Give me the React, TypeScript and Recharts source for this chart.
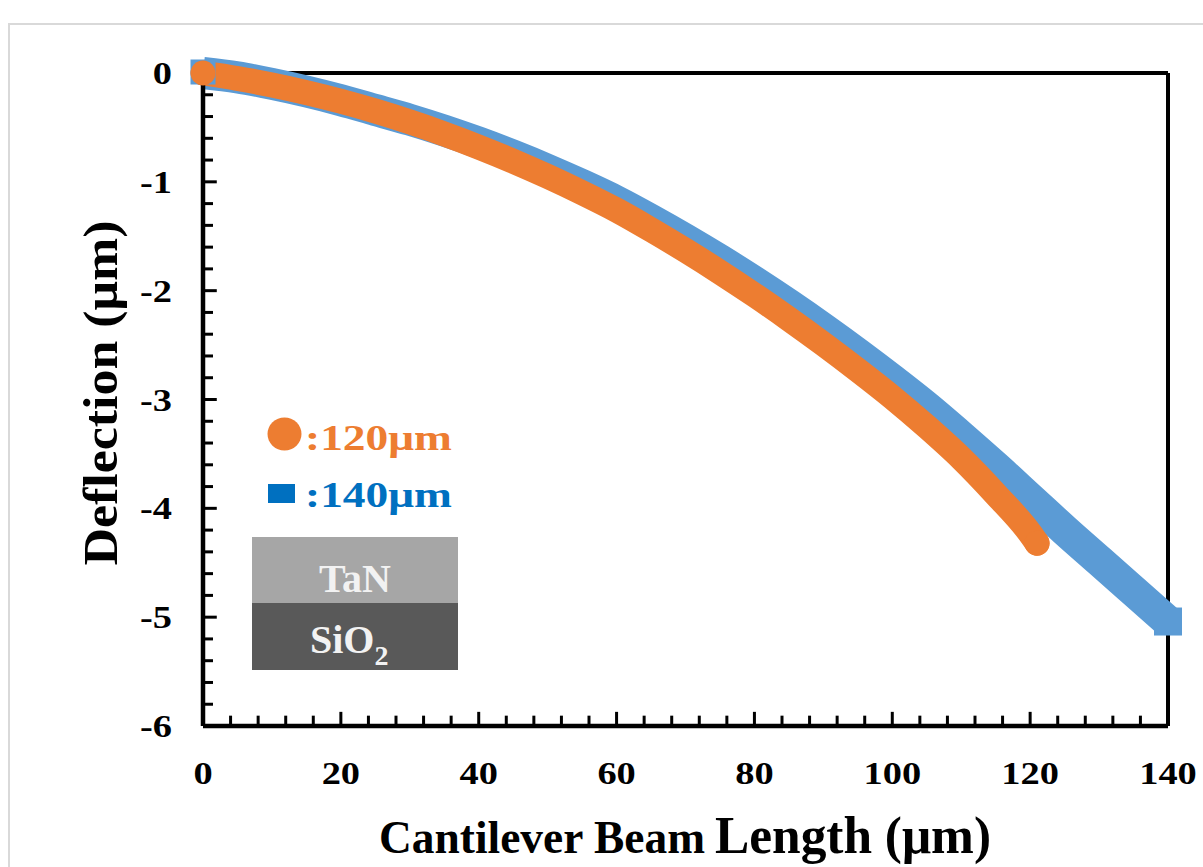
import React from 'react';
import { LineChart, Line, XAxis, YAxis, ReferenceLine } from 'recharts';

// values
const xTicks = [0, 20, 40, 60, 80, 100, 120, 140];
const yTicks = [0, -1, -2, -3, -4, -5, -6];

const beam120x = [0, 5, 10, 15, 20, 25, 30, 35, 40, 45, 50, 55, 60, 65, 70, 75, 80, 85, 90, 95, 100, 105, 110, 115, 120, 121];
const beam120y = [0, -0.05, -0.11, -0.18, -0.26, -0.35, -0.45, -0.56, -0.68, -0.81, -0.95, -1.1, -1.26, -1.44, -1.63, -1.83, -2.04, -2.26, -2.49, -2.73, -2.98, -3.25, -3.54, -3.87, -4.23, -4.32];

const beam140x = [0, 5, 10, 15, 20, 25, 30, 35, 40, 45, 50, 55, 60, 65, 70, 75, 80, 85, 90, 95, 100, 105, 110, 115, 120, 125, 130, 135, 140];
const beam140y = [0, -0.04, -0.1, -0.17, -0.25, -0.34, -0.43, -0.53, -0.64, -0.76, -0.89, -1.03, -1.18, -1.35, -1.53, -1.72, -1.92, -2.13, -2.35, -2.58, -2.82, -3.07, -3.34, -3.62, -3.91, -4.2, -4.48, -4.76, -5.04];

const beam120 = beam120x.map((x, i) => ({ x, y: beam120y[i] }));
const beam140 = beam140x.map((x, i) => ({ x, y: beam140y[i] }));

// minor tick positions of the axes
const xMinor = Array.from({ length: 34 }, (_, i) => (i + 1) * 4);
const yMinor = Array.from({ length: 29 }, (_, i) => -Math.round((i + 1) * 2) / 10);

const ORANGE = '#ed7d31';
const BLUE = '#5b9bd5';
const SERIF = '"Liberation Serif", "Times New Roman", serif';

function XTick({ x, y, payload }: any) {
  return (
    <text transform={`translate(${x},${y + 58}) scale(1.2,1)`} textAnchor="middle"
      fontFamily={SERIF} fontWeight="bold" fontSize={32} fill="#000">
      {payload.value}
    </text>
  );
}

function YTick({ x, y, payload }: any) {
  return (
    <text transform={`translate(${x - 31},${y + 11}) scale(1.2,1)`} textAnchor="end"
      fontFamily={SERIF} fontWeight="bold" fontSize={32} fill="#000">
      {payload.value}
    </text>
  );
}

// only the ends of each band show their marker shape
const squareEnd = (p: any) => {
  if (p.index !== 0 && p.index !== beam140.length - 1) return <g key={'sq' + p.index} />;
  const s = p.index === 0 ? 25 : 28;
  return <rect key={'sq' + p.index} x={p.cx - s / 2} y={p.cy - s / 2 - (p.index === 0 ? 1 : 0)} width={s} height={s} fill={BLUE} />;
};
const circleEnd = (p: any) => {
  if (p.index !== 0 && p.index !== beam120.length - 1) return <g key={'ci' + p.index} />;
  return <circle key={'ci' + p.index} cx={p.cx} cy={p.cy} r={12.5} fill={ORANGE} />;
};

export default function App() {
  return (
    <div style={{ position: 'absolute', left: 0, top: 0, width: 1203, height: 867, overflow: 'hidden', background: '#fff' }}>
      <div style={{ position: 'absolute', left: 8, top: 23, width: 1400, height: 1000, border: '2px solid #d9d9d9' }} />
      <div style={{ position: 'absolute', left: 0, top: 0 }}>
        <LineChart width={1203} height={867} margin={{ top: 73, right: 35, bottom: 140, left: 202 }}>
          <XAxis type="number" dataKey="x" domain={[0, 140]} ticks={xTicks} interval={0}
            height={1} tickSize={0} tickMargin={0} tickLine={false}
            axisLine={{ stroke: '#000', strokeWidth: 4.5 }} tick={<XTick />} />
          <YAxis type="number" domain={[-6, 0]} ticks={yTicks} interval={0}
            width={1} tickSize={0} tickMargin={0} tickLine={false}
            axisLine={{ stroke: '#000', strokeWidth: 4.5 }} tick={<YTick />} />
          <ReferenceLine y={0} stroke="#000" strokeWidth={4} />
          <ReferenceLine x={140} stroke="#000" strokeWidth={4} />
          {xMinor.map((v) => (
            <ReferenceLine key={'xt' + v}
              segment={[{ x: v, y: -6 }, { x: v, y: v % 20 === 0 ? -5.87 : -5.905 }]}
              stroke="#000" strokeWidth={3} />
          ))}
          {yMinor.map((v) => (
            <ReferenceLine key={'yt' + v}
              segment={[{ x: 0, y: v }, { x: Number.isInteger(v) ? 2.0 : 1.45, y: v }]}
              stroke="#000" strokeWidth={3} />
          ))}
          <Line data={beam140} dataKey="y" type="monotone" stroke={BLUE} strokeWidth={32}
            strokeLinecap="butt" strokeLinejoin="round" dot={squareEnd} activeDot={false} isAnimationActive={false} />
          <Line data={beam120} dataKey="y" type="monotone" stroke={ORANGE} strokeWidth={25}
            strokeLinecap="round" strokeLinejoin="round" dot={circleEnd} activeDot={false} isAnimationActive={false} />
        </LineChart>
      </div>
      <svg width={1203} height={867} style={{ position: 'absolute', left: 0, top: 0, pointerEvents: 'none' }}>
        <text transform="translate(117,393) rotate(-90)" textAnchor="middle" fontFamily={SERIF}
          fontWeight="bold" fontSize={48} textLength={345} lengthAdjust="spacingAndGlyphs">
          Deflection (μm)
        </text>
        <text x={379} y={853} fontFamily={SERIF} fontWeight="bold" fontSize={46}
          textLength={326} lengthAdjust="spacingAndGlyphs">Cantilever Beam</text>
        <text x={715} y={853} fontFamily={SERIF} fontWeight="bold" fontSize={52}
          textLength={276} lengthAdjust="spacingAndGlyphs">Length (μm)</text>

        <ellipse cx={284.5} cy={434} rx={17} ry={16.5} fill={ORANGE} />
        <text x={305} y={450} fontFamily={SERIF} fontWeight="bold" fontSize={36} fill={ORANGE}
          textLength={147} lengthAdjust="spacingAndGlyphs">:120μm</text>
        <rect x={268} y={484} width={27} height={19} fill="#0070c0" />
        <text x={305} y={507} fontFamily={SERIF} fontWeight="bold" fontSize={36} fill="#0070c0"
          textLength={147} lengthAdjust="spacingAndGlyphs">:140μm</text>

        <rect x={252} y={537} width={206} height={66} fill="#a6a6a6" />
        <rect x={252} y={603} width={206} height={67} fill="#595959" />
        <text x={355} y={592} textAnchor="middle" fontFamily={SERIF} fontWeight="bold" fontSize={40}
          fill="#f2f2f2">TaN</text>
        <text x={310} y={653} fontFamily={SERIF} fontWeight="bold" fontSize={40} fill="#f2f2f2">
          SiO<tspan fontSize={28} dy={12}>2</tspan>
        </text>
      </svg>
    </div>
  );
}
